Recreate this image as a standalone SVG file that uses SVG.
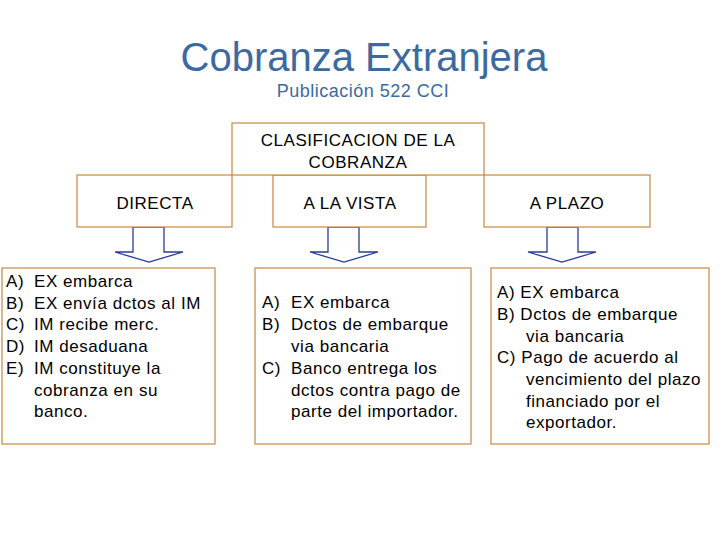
<svg xmlns="http://www.w3.org/2000/svg" width="728" height="546" viewBox="0 0 728 546">
<defs>
<style>
.box{fill:#fff;stroke:#c8873f;stroke-width:1.2}
.arr{fill:#fff;stroke:#2a3c96;stroke-width:1.3;stroke-linejoin:miter}
.t{font-family:"Liberation Sans",Arial,sans-serif;font-size:17px;fill:#000;letter-spacing:0.55px}
.c{text-anchor:middle}
.title{font-family:"Liberation Sans",Arial,sans-serif;fill:#3b6aa0;text-anchor:middle}
</style>
</defs>
<rect width="728" height="546" fill="#fff"/>
<text class="title" x="364" y="71" font-size="40">Cobranza Extranjera</text>
<text class="title" x="363" y="97" font-size="18" letter-spacing="0.5">Publicación 522 CCI</text>

<g id="connectors">
<polygon class="arr" points="133,227 164,227 164,252 183,252 149,262 115,252 133,252"/>
<polygon class="arr" points="328,227 359,227 359,252 378,252 344,262 310,252 328,252"/>
<polygon class="arr" points="547,227 578,227 578,252 596,252 562,262 528,252 547,252"/>
</g>

<g id="directa">
<rect class="box" x="77" y="175" width="155" height="52"/>
<text class="t c" x="155" y="209">DIRECTA</text>
</g>
<g id="vista">
<rect class="box" x="273" y="175" width="153" height="52"/>
<text class="t c" x="350" y="209">A LA VISTA</text>
</g>
<g id="plazo">
<rect class="box" x="484" y="175" width="166" height="52"/>
<text class="t c" x="567" y="209">A PLAZO</text>
</g>
<g id="clasificacion">
<rect class="box" x="232" y="123" width="252" height="52"/>
<text class="t c" x="358" y="146">CLASIFICACION DE LA</text>
<text class="t c" x="358" y="168">COBRANZA</text>
</g>

<g id="lista-directa">
<rect class="box" x="2" y="268" width="213" height="176"/>
<text class="t" x="6" y="287">A)</text><text class="t" x="34" y="287">EX embarca</text>
<text class="t" x="6" y="308.5">B)</text><text class="t" x="34" y="308.5">EX envía dctos al IM</text>
<text class="t" x="6" y="330">C)</text><text class="t" x="34" y="330">IM recibe merc.</text>
<text class="t" x="6" y="352">D)</text><text class="t" x="34" y="352">IM desaduana</text>
<text class="t" x="6" y="374">E)</text><text class="t" x="34" y="374">IM constituye la</text>
<text class="t" x="34" y="395.5">cobranza en su</text>
<text class="t" x="34" y="417">banco.</text>
</g>

<g id="lista-vista">
<rect class="box" x="255" y="268" width="216" height="176"/>
<text class="t" x="262" y="308">A)</text><text class="t" x="291" y="308">EX embarca</text>
<text class="t" x="262" y="330">B)</text><text class="t" x="291" y="330">Dctos de embarque</text>
<text class="t" x="291" y="352">via bancaria</text>
<text class="t" x="262" y="374">C)</text><text class="t" x="291" y="374">Banco entrega los</text>
<text class="t" x="291" y="395.5">dctos contra pago de</text>
<text class="t" x="291" y="417">parte del importador.</text>
</g>

<g id="lista-plazo">
<rect class="box" x="491" y="268" width="218" height="176"/>
<text class="t" x="497" y="298">A) EX embarca</text>
<text class="t" x="497" y="320">B) Dctos de embarque</text>
<text class="t" x="526" y="341.5">via bancaria</text>
<text class="t" x="497" y="363">C) Pago de acuerdo al</text>
<text class="t" x="526" y="385">vencimiento del plazo</text>
<text class="t" x="526" y="406.5">financiado por el</text>
<text class="t" x="526" y="428">exportador.</text>
</g>
</svg>
